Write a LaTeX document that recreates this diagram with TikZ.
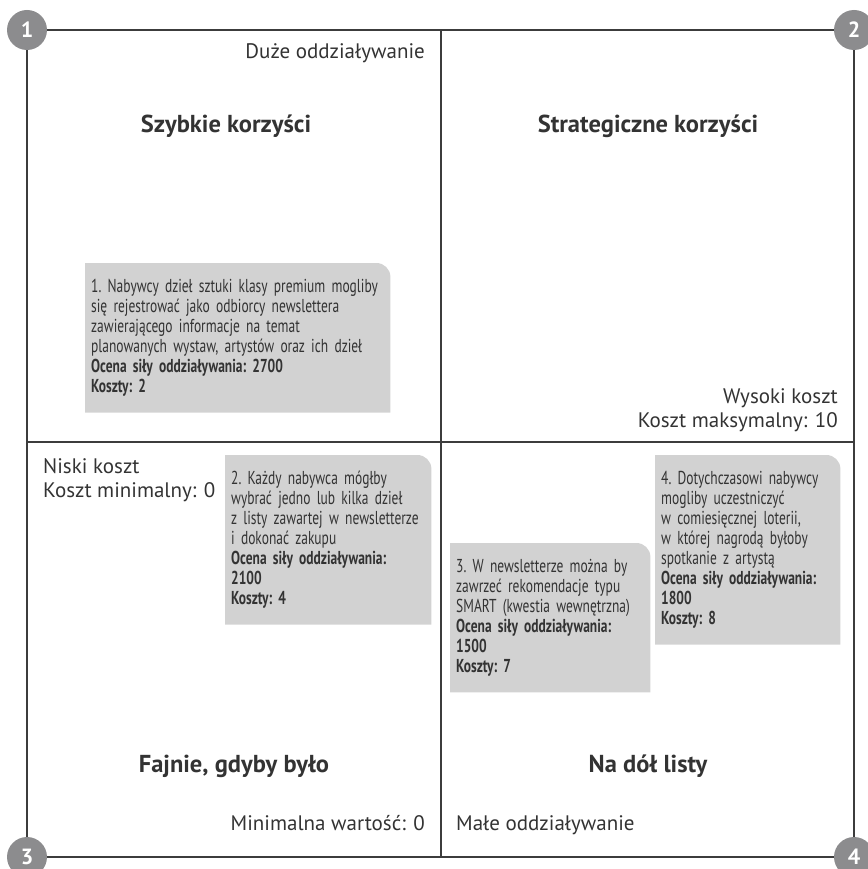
\documentclass[tikz,border=0pt]{standalone}
\usepackage{fontspec}
\setmainfont{PT Sans}
\newfontfamily\condfont[FakeStretch=0.72]{PT Sans}
\usepackage{xcolor}
\usetikzlibrary{backgrounds}
\definecolor{ink}{HTML}{333333}
\definecolor{rule}{HTML}{3C3C3C}
\definecolor{cardgray}{HTML}{D2D2D2}
\definecolor{badgegray}{HTML}{8C8C8E}
\tikzset{
  frame/.style={draw=rule, line width=2.4pt},
  badge/.style={circle, fill=badgegray, minimum size=40pt, inner sep=0pt, text=white, font=\fontsize{22}{22}\selectfont\bfseries},
  lbl/.style={text=ink, inner sep=0pt, font=\fontsize{21}{24}\selectfont},
  head/.style={text=ink, inner sep=0pt, font=\fontsize{24.5}{28}\selectfont\bfseries},
  card/.style={anchor=north west, text=ink, align=left, inner xsep=6pt, inner ysep=16pt, font=\condfont\frenchspacing\fontsize{18.7}{20}\selectfont},
  cardfill/.style={fill=cardgray}
}
\newcommand{\cardbg}[1]{%
  \begin{pgfonlayer}{background}
  \fill[cardfill] (#1.south west) -- (#1.north west) -- ([xshift=-14pt]#1.north east)
    arc[start angle=90, end angle=0, radius=14pt] -- (#1.south east) -- cycle;
  \end{pgfonlayer}}

\begin{document}
\begin{tikzpicture}[x=1pt, y=-1pt]
\useasboundingbox (0,0) rectangle (867,869);
% frame corners and midpoints
\coordinate (c1) at (27,30);
\coordinate (c2) at (854,30);
\coordinate (c3) at (27,857);
\coordinate (c4) at (854,857);
\coordinate (mt) at (441,30);
\coordinate (mb) at (441,857);
\coordinate (ml) at (27,442);
\coordinate (mr) at (854,442);
\draw[frame] (c1) -- (c2) -- (c4) -- (c3) -- cycle;
\draw[frame] (mt) -- (mb);
\draw[frame] (ml) -- (mr);
\foreach \i in {1,...,4} \node[badge] (b\i) at (c\i) {\i};

% axis labels
\node[lbl, anchor=base east] (hi) at (425,59) {Duże oddziaływanie};
\node[lbl, anchor=base west] (lo) at (456,830) {Małe oddziaływanie};
\node[lbl, anchor=base east] (minv) at (425,830) {Minimalna wartość: 0};
\node[lbl, anchor=base east] (hc) at (838,403) {Wysoki koszt};
\node[lbl, anchor=base east] (hcm) at (838,427) {Koszt maksymalny: 10};
\node[lbl, anchor=base west] (lc) at (43,473) {Niski koszt};
\node[lbl, anchor=base west] (lcm) at (43,497) {Koszt minimalny: 0};

% quadrant titles
\node[head, anchor=base] (q1) at (226,133) {Szybkie korzyści};
\node[head, anchor=base] (q2) at (648,133) {Strategiczne korzyści};
\node[head, anchor=base] (q3) at (234,772) {Fajnie, gdyby było};
\node[head, anchor=base] (q4) at (648,772) {Na dół listy};

% ideas
\node[card, text width=293pt] (k1) at (85,263) {1. Nabywcy dzieł sztuki klasy premium mogliby\\
  się rejestrować jako odbiorcy newslettera\\
  zawierającego informacje na temat\\
  planowanych wystaw, artystów oraz ich dzieł\\
  \textbf{Ocena siły oddziaływania: 2700}\\
  \textbf{Koszty: 2}};
\node[card, text width=194pt] (k2) at (225,455) {2. Każdy nabywca mógłby\\
  wybrać jedno lub kilka dzieł\\
  z listy zawartej w newsletterze\\
  i dokonać zakupu\\
  \textbf{Ocena siły oddziaływania:}\\
  \textbf{2100}\\
  \textbf{Koszty: 4}};
\node[card, text width=188pt] (k3) at (450,543) {3. W newsletterze można by\\
  zawrzeć rekomendacje typu\\
  SMART (kwestia wewnętrzna)\\
  \textbf{Ocena siły oddziaływania:}\\
  \textbf{1500}\\
  \textbf{Koszty: 7}};
\node[card, text width=173pt] (k4) at (655,455) {4. Dotychczasowi nabywcy\\
  mogliby uczestniczyć\\
  w comiesięcznej loterii,\\
  w której nagrodą byłoby\\
  spotkanie z artystą\\
  \textbf{Ocena siły oddziaływania:}\\
  \textbf{1800}\\
  \textbf{Koszty: 8}};
\foreach \k in {k1,k2,k3,k4} \cardbg{\k};
\end{tikzpicture}
\end{document}
